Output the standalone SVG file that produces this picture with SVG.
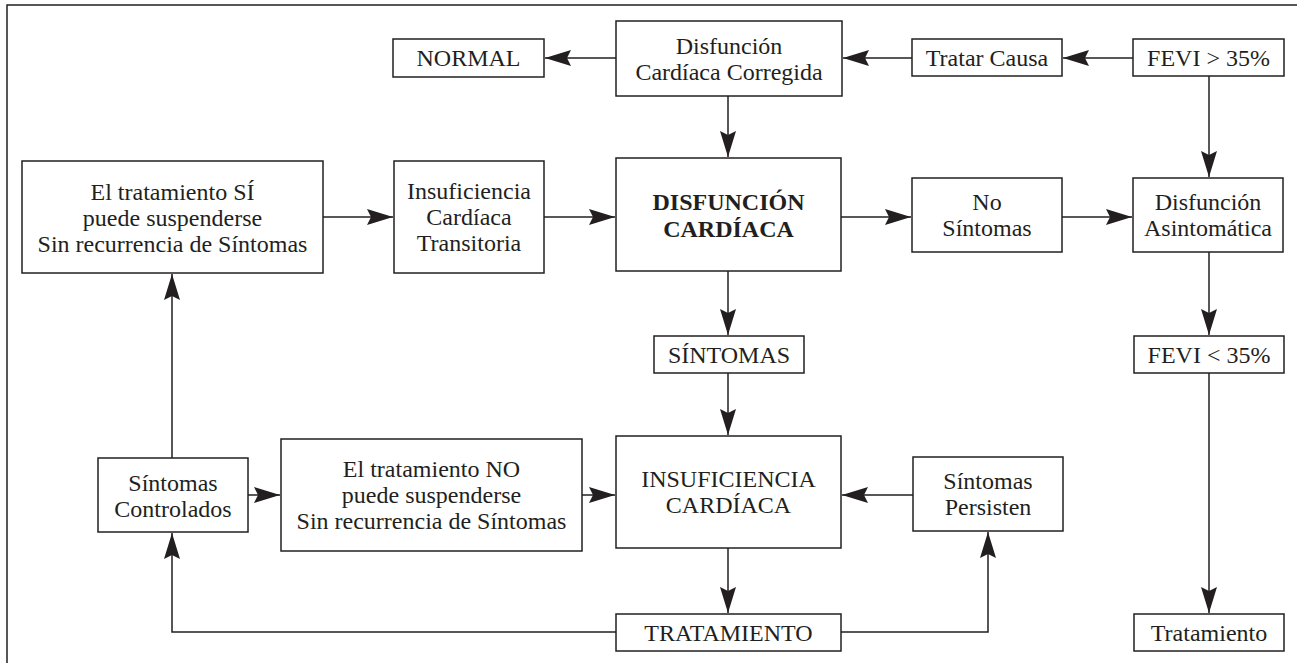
<svg xmlns="http://www.w3.org/2000/svg" width="1297" height="663" viewBox="0 0 1297 663">
<style>
.box{fill:#fff;stroke:#231f20;stroke-width:1.5}
.t{font-family:"Liberation Serif","Times New Roman",serif;font-size:24px;fill:#231f20;text-anchor:middle}
.b{font-weight:bold}
.c{fill:none;stroke:#231f20;stroke-width:1.5}
</style>
<defs>
<marker id="ah" markerUnits="userSpaceOnUse" markerWidth="30" markerHeight="20" viewBox="-28 -10 30 20" refX="0" refY="0" orient="auto">
<path d="M0,0 L-26,-8 L-22,0 L-26,8 Z" fill="#231f20"/>
</marker>
</defs>
<rect width="1297" height="663" fill="#fff"/>
<path d="M7,663 V5 H1297" fill="none" stroke="#231f20" stroke-width="1.5"/>
<g id="connectors">
<path class="c" d="M616,58 H545" marker-end="url(#ah)"/>
<path class="c" d="M912,58 H843" marker-end="url(#ah)"/>
<path class="c" d="M1133,58 H1063" marker-end="url(#ah)"/>
<path class="c" d="M1209,76 V177" marker-end="url(#ah)"/>
<path class="c" d="M728,96 V157" marker-end="url(#ah)"/>
<path class="c" d="M323,217 H393" marker-end="url(#ah)"/>
<path class="c" d="M544,217 H615" marker-end="url(#ah)"/>
<path class="c" d="M841,217 H911" marker-end="url(#ah)"/>
<path class="c" d="M1062,217 H1132" marker-end="url(#ah)"/>
<path class="c" d="M1209,252 V335" marker-end="url(#ah)"/>
<path class="c" d="M728,271 V335" marker-end="url(#ah)"/>
<path class="c" d="M728,373 V435" marker-end="url(#ah)"/>
<path class="c" d="M1209,373 V613" marker-end="url(#ah)"/>
<path class="c" d="M248,495 H280" marker-end="url(#ah)"/>
<path class="c" d="M582,495 H615" marker-end="url(#ah)"/>
<path class="c" d="M913,495 H842" marker-end="url(#ah)"/>
<path class="c" d="M728,548 V613" marker-end="url(#ah)"/>
<path class="c" d="M616,632 H172 V533" marker-end="url(#ah)"/>
<path class="c" d="M841,632 H988 V532" marker-end="url(#ah)"/>
<path class="c" d="M172,458 V274" marker-end="url(#ah)"/>
</g>
<g id="normal"><rect class="box" x="393" y="39" width="151" height="38"/><text class="t" x="468.5" y="66">NORMAL</text></g>
<g id="dcc"><rect class="box" x="616" y="21" width="226" height="75"/><text class="t" x="729" y="54">Disfunción</text><text class="t" x="729" y="80">Cardíaca Corregida</text></g>
<g id="tratar-causa"><rect class="box" x="912" y="39" width="150" height="37"/><text class="t" x="987" y="65.5">Tratar Causa</text></g>
<g id="fevi-mayor"><rect class="box" x="1133" y="39" width="151" height="37"/><text class="t" x="1208.5" y="65.5">FEVI &gt; 35%</text></g>
<g id="tratamiento-si"><rect class="box" x="22" y="161" width="301" height="112"/><text class="t" x="172.5" y="200">El tratamiento SÍ</text><text class="t" x="172.5" y="226">puede suspenderse</text><text class="t" x="172.5" y="252">Sin recurrencia de Síntomas</text></g>
<g id="ict"><rect class="box" x="394" y="161" width="150" height="112"/><text class="t" x="469" y="199">Insuficiencia</text><text class="t" x="469" y="225">Cardíaca</text><text class="t" x="469" y="251">Transitoria</text></g>
<g id="disfuncion"><rect class="box" x="616" y="158" width="225" height="113"/><text class="t b" x="728.5" y="210">DISFUNCIÓN</text><text class="t b" x="728.5" y="237">CARDÍACA</text></g>
<g id="no-sintomas"><rect class="box" x="912" y="178" width="150" height="74"/><text class="t" x="987" y="210">No</text><text class="t" x="987" y="236">Síntomas</text></g>
<g id="asintomatica"><rect class="box" x="1133" y="178" width="150" height="74"/><text class="t" x="1208" y="210">Disfunción</text><text class="t" x="1208" y="236">Asintomática</text></g>
<g id="sintomas"><rect class="box" x="654" y="336" width="150" height="37"/><text class="t" x="729" y="362.5">SÍNTOMAS</text></g>
<g id="fevi-menor"><rect class="box" x="1134" y="336" width="150" height="37"/><text class="t" x="1209" y="362.5">FEVI &lt; 35%</text></g>
<g id="controlados"><rect class="box" x="98" y="458" width="150" height="74"/><text class="t" x="173" y="491">Síntomas</text><text class="t" x="173" y="517">Controlados</text></g>
<g id="tratamiento-no"><rect class="box" x="281" y="439" width="301" height="112"/><text class="t" x="431.5" y="477">El tratamiento NO</text><text class="t" x="431.5" y="503">puede suspenderse</text><text class="t" x="431.5" y="529">Sin recurrencia de Síntomas</text></g>
<g id="insuficiencia"><rect class="box" x="616" y="436" width="225" height="112"/><text class="t" x="728.5" y="487">INSUFICIENCIA</text><text class="t" x="728.5" y="513">CARDÍACA</text></g>
<g id="persisten"><rect class="box" x="913" y="457" width="150" height="74"/><text class="t" x="988" y="489">Síntomas</text><text class="t" x="988" y="515">Persisten</text></g>
<g id="tratamiento-central"><rect class="box" x="616" y="614" width="225" height="37"/><text class="t" x="728.5" y="640.5">TRATAMIENTO</text></g>
<g id="tratamiento-derecha"><rect class="box" x="1134" y="614" width="150" height="37"/><text class="t" x="1209" y="640.5">Tratamiento</text></g>
</svg>
